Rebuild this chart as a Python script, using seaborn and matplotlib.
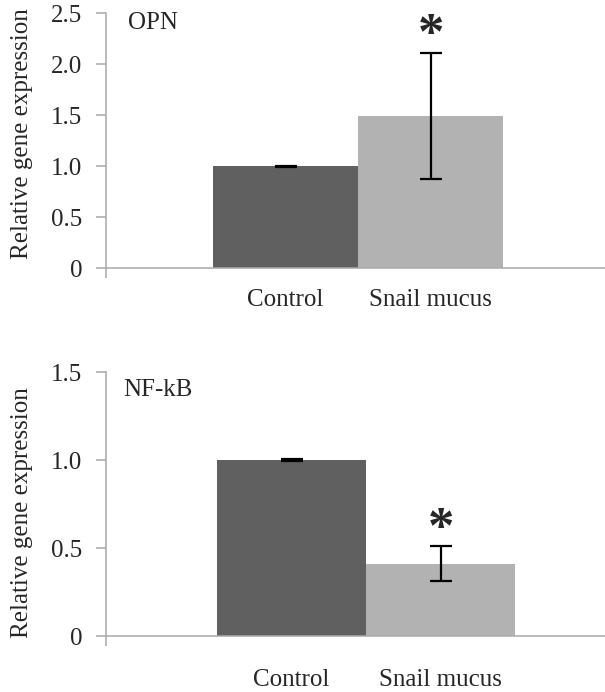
import numpy as np
import pandas as pd
import matplotlib
matplotlib.use("Agg")
import matplotlib.pyplot as plt
import seaborn as sns

# ── data ────────────────────────────────────────────────────
groups = ["Control", "Snail mucus"]
opn_mean = [1.0, 1.49]
opn_err = [0.005, 0.62]
nfkb_mean = [1.0, 0.41]
nfkb_err = [0.003, 0.10]
opn_ticks = [0, 0.5, 1.0, 1.5, 2.0, 2.5]
opn_ticklabels = ["0", "0.5", "1.0", "1.5", "2.0", "2.5"]
nfkb_ticks = [0, 0.5, 1.0, 1.5]
nfkb_ticklabels = ["0", "0.5", "1.0", "1.5"]
bar_colors = ["#606060", "#b2b2b2"]

sns.set_style("white")
plt.rcParams["font.family"] = ["Liberation Serif", "DejaVu Serif"]

AXIS_GRAY = "#a8a8a8"
FS = 18

fig = plt.figure(figsize=(6.05, 6.92), dpi=100)
ax_top = fig.add_axes([0.1752, 0.6127, 0.8248, 0.3685])
ax_bot = fig.add_axes([0.1752, 0.0809, 0.8248, 0.3815])


def draw_panel(ax, means, errs, ticks, ticklabels, xlim, star_y, name,
               name_xy, label_y, xpad):
    df = pd.DataFrame({"group": groups, "value": means})
    sns.barplot(data=df, x="group", y="value", hue="group",
                palette=bar_colors, width=1.0, saturation=1,
                errorbar=None, legend=False, linewidth=0, ax=ax)
    ax.errorbar(x=range(len(groups)), y=means, yerr=errs, fmt="none",
                ecolor="black", elinewidth=1.6, capsize=8, capthick=1.6)
    ax.text(1, star_y, "*", ha="center", va="center", fontsize=38,
            fontweight="bold")
    ax.set_xlim(*xlim)
    ax.set_ylim(ticks[0], ticks[-1])
    ax.set_yticks(ticks)
    ax.set_yticklabels(ticklabels)
    ax.set_xlabel("")
    ax.set_ylabel("Relative gene expression", fontsize=FS)
    ax.yaxis.set_label_coords(-0.146, label_y)
    ax.text(name_xy[0], name_xy[1], name, transform=ax.transAxes,
            ha="left", va="center", fontsize=FS)
    sns.despine(ax=ax, top=True, right=True)
    for s in ["left", "bottom"]:
        ax.spines[s].set_color(AXIS_GRAY)
        ax.spines[s].set_linewidth(1.1)
    ax.tick_params(axis="y", direction="out", length=7, width=1.1,
                   color=AXIS_GRAY, labelsize=FS, pad=10, left=True)
    ax.tick_params(axis="x", which="major", length=0, labelsize=FS, pad=xpad)
    # small tick at left end of category axis
    ax.set_xticks([xlim[0]], minor=True)
    ax.tick_params(axis="x", which="minor", direction="out", length=7,
                   width=1.1, color=AXIS_GRAY, bottom=True)


draw_panel(ax_top, opn_mean, opn_err, opn_ticks, opn_ticklabels,
           (-1.238, 2.203), 2.27, "OPN", (0.044, 0.96), 0.527, 15)
draw_panel(ax_bot, nfkb_mean, nfkb_err, nfkb_ticks, nfkb_ticklabels,
           (-1.245, 2.104), 0.605, "NF-kB", (0.034, 0.932), 0.466, 24)

fig.savefig("out.png", dpi=100)
